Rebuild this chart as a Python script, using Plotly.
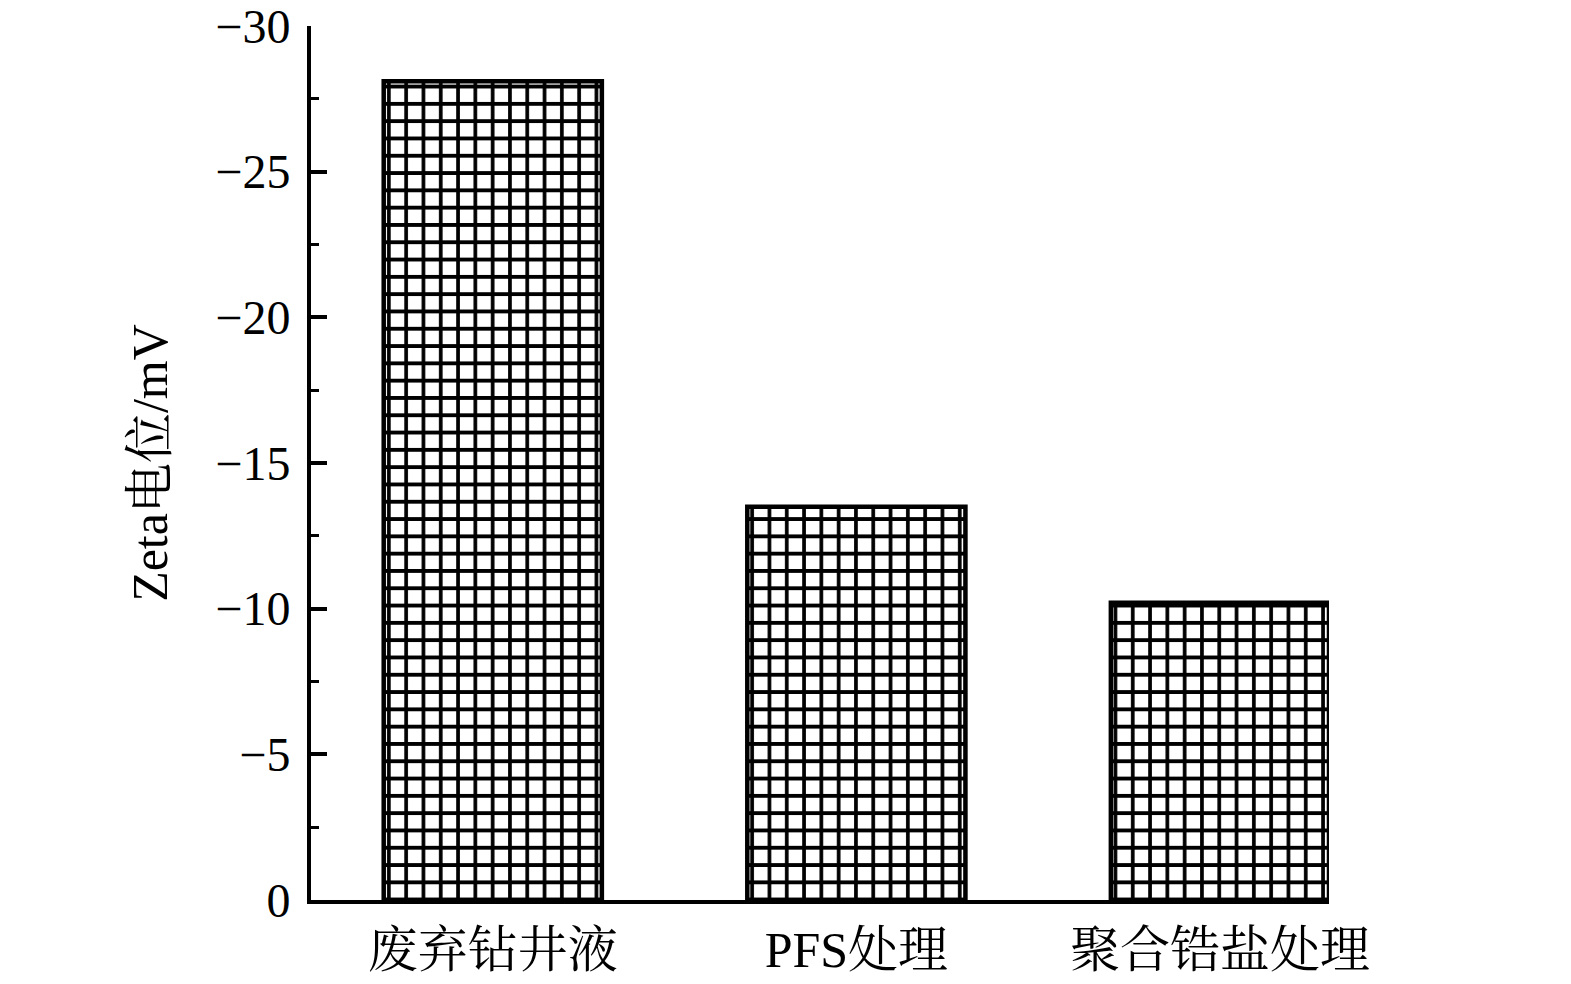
import plotly.graph_objects as go

categories = ["废弃钻井液", "PFS处理", "聚合锆盐处理"]
zeta_mv = [-28.1, -13.5, -10.2]
y_ticks = [0, -5, -10, -15, -20, -25, -30]

FONT = "Liberation Serif, Times New Roman, Noto Serif CJK SC, Noto Sans CJK SC, serif"

fig = go.Figure(
    go.Bar(
        x=list(range(len(categories))),
        y=zeta_mv,
        width=0.6,
        marker=dict(
            color="white",
            line=dict(color="black", width=4.5),
            pattern=dict(shape="+", size=17.3, solidity=0.38, fgcolor="black", bgcolor="white", fgopacity=1),
        ),
    )
)

fig.update_layout(
    width=1571,
    height=984,
    margin=dict(l=311, r=242, t=26, b=84),
    paper_bgcolor="white",
    plot_bgcolor="white",
    showlegend=False,
    font=dict(family=FONT, color="black"),
)

fig.update_xaxes(
    range=[-0.5, 2.3],
    tickvals=list(range(len(categories))),
    ticktext=categories,
    showline=True,
    linecolor="black",
    linewidth=4,
    ticks="",
    showgrid=False,
    zeroline=False,
    automargin=False,
    ticklabeloverflow="allow",
    tickfont=dict(size=50, family=FONT),
    ticklabelstandoff=3,
)

fig.update_yaxes(
    range=[0, -30],
    tickvals=y_ticks,
    showline=True,
    linecolor="black",
    linewidth=4,
    ticks="inside",
    ticklen=16,
    tickwidth=4,
    tickcolor="black",
    minor=dict(ticks="inside", ticklen=8, tickwidth=3, tickcolor="black", dtick=2.5, tick0=0, showgrid=False),
    showgrid=False,
    zeroline=False,
    automargin=False,
    ticklabeloverflow="allow",
    tickfont=dict(size=48, family=FONT),
    ticklabelstandoff=7,
    title=dict(text="Zeta电位/mV", font=dict(size=50, family=FONT), standoff=33),
)

fig.write_html(
    "out.html",
    config={"displayModeBar": False},
    post_script="document.body.style.margin='0';document.body.style.padding='0';document.body.style.overflow='hidden';",
)
